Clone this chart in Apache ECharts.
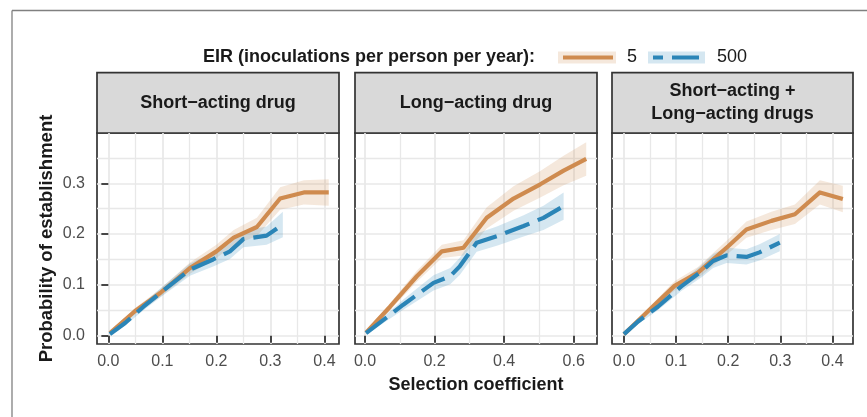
<!DOCTYPE html>
<html>
<head>
<meta charset="utf-8">
<script src="https://cdn.jsdelivr.net/npm/echarts@6/dist/echarts.min.js"></script>
<style>
  html, body { margin: 0; padding: 0; background: #fff; }
  #chart { width: 867px; height: 417px; }
</style>
</head>
<body>
<div id="chart"></div>
<script>
// Panel headings and legend entries
const panelTitles = ['Short\u2212acting drug', 'Long\u2212acting drug', 'Short\u2212acting +\nLong\u2212acting drugs'];
const legendTitle = 'EIR (inoculations per person per year):';
const eirLevels = ['5', '500'];

// Short-acting drug: selection coefficient, probability of establishment, CI half-width
const shortX5   = [0.003, 0.049, 0.096, 0.151, 0.200, 0.232, 0.275, 0.318, 0.362, 0.408];
const shortY5   = [0.005, 0.048, 0.084, 0.133, 0.166, 0.193, 0.214, 0.270, 0.282, 0.282];
const shortCi5  = [0.003, 0.006, 0.008, 0.011, 0.013, 0.015, 0.018, 0.022, 0.024, 0.026];
const shortX500  = [0.003, 0.031, 0.065, 0.096, 0.151, 0.194, 0.225, 0.250, 0.293, 0.323];
const shortY500  = [0.003, 0.025, 0.057, 0.084, 0.130, 0.150, 0.166, 0.190, 0.197, 0.219];
const shortCi500 = [0.003, 0.005, 0.007, 0.009, 0.012, 0.014, 0.015, 0.016, 0.018, 0.025];

// Long-acting drug
const longX5   = [0.003, 0.072, 0.149, 0.221, 0.283, 0.350, 0.427, 0.504, 0.571, 0.636];
const longY5   = [0.006, 0.057, 0.117, 0.166, 0.173, 0.232, 0.270, 0.298, 0.325, 0.348];
const longCi5  = [0.003, 0.007, 0.011, 0.013, 0.015, 0.021, 0.024, 0.026, 0.029, 0.033];
const longX500  = [0.003, 0.053, 0.110, 0.197, 0.245, 0.273, 0.321, 0.379, 0.456, 0.513, 0.571];
const longY500  = [0.005, 0.031, 0.061, 0.104, 0.117, 0.137, 0.183, 0.196, 0.216, 0.232, 0.255];
const longCi500 = [0.003, 0.006, 0.010, 0.015, 0.016, 0.017, 0.018, 0.019, 0.021, 0.024, 0.027];

// Short-acting + long-acting drugs
const comboX5   = [0.000, 0.049, 0.097, 0.142, 0.200, 0.235, 0.283, 0.328, 0.376, 0.420];
const comboY5   = [0.003, 0.051, 0.098, 0.124, 0.176, 0.209, 0.226, 0.239, 0.282, 0.269];
const comboCi5  = [0.003, 0.006, 0.009, 0.011, 0.014, 0.016, 0.018, 0.019, 0.024, 0.026];
const comboX500  = [0.000, 0.027, 0.065, 0.110, 0.149, 0.171, 0.197, 0.235, 0.260, 0.299];
const comboY500  = [0.003, 0.028, 0.057, 0.097, 0.127, 0.147, 0.158, 0.155, 0.164, 0.183];
const comboCi500 = [0.003, 0.005, 0.007, 0.009, 0.012, 0.014, 0.015, 0.015, 0.016, 0.017];

// Axis breaks
const yTicks = [0, 0.1, 0.2, 0.3];
const yMinor = [0.05, 0.15, 0.25, 0.35];
const xTicksShort = [0, 0.1, 0.2, 0.3, 0.4];
const xMinorShort = [0.05, 0.15, 0.25, 0.35];
const xTicksLong = [0, 0.2, 0.4, 0.6];
const xMinorLong = [0.1, 0.3, 0.5];
const yRange = [-0.0164, 0.399];
const xRanges = [[-0.021, 0.427], [-0.0288, 0.667], [-0.023, 0.4395]];

const COL5 = '#cf8b4f', COL500 = '#2b85b7';
const BAND5 = 'rgba(207,139,79,0.2)', BAND500 = 'rgba(43,133,183,0.2)';
const FONT = '"Liberation Sans", Arial, Helvetica, sans-serif';
const INK = '#1a1a1a', TICKTXT = '#4d4d4d', FRAME = '#333333', GRID = '#e8e8e8';

const panels = [
  { title: panelTitles[0], xTicks: xTicksShort, xMinor: xMinorShort, range: xRanges[0],
    s5: [shortX5, shortY5, shortCi5], s500: [shortX500, shortY500, shortCi500] },
  { title: panelTitles[1], xTicks: xTicksLong, xMinor: xMinorLong, range: xRanges[1],
    s5: [longX5, longY5, longCi5], s500: [longX500, longY500, longCi500] },
  { title: panelTitles[2], xTicks: xTicksShort, xMinor: xMinorShort, range: xRanges[2],
    s5: [comboX5, comboY5, comboCi5], s500: [comboX500, comboY500, comboCi500] }
];

// Plot-area placement of the three facets
const gridBoxes = [
  { left: 97, width: 242 },
  { left: 355, width: 242 },
  { left: 612, width: 241 }
];
const PLOT_TOP = 133, PLOT_H = 211, STRIP_TOP = 72.7;

const grids = gridBoxes.map(b => ({
  left: b.left, top: PLOT_TOP, width: b.width, height: PLOT_H,
  show: true, borderColor: FRAME, borderWidth: 1.7, backgroundColor: '#fff'
}));

const xAxes = [], yAxes = [];
panels.forEach((p, i) => {
  xAxes.push({
    type: 'value', gridIndex: i, min: p.range[0], max: p.range[1],
    axisLine: { show: false },
    axisTick: { show: true, length: 7, customValues: p.xTicks, lineStyle: { color: FRAME, width: 1.8 } },
    axisLabel: { show: true, customValues: p.xTicks, margin: 10, color: TICKTXT, fontSize: 16, fontFamily: FONT,
      formatter: v => v.toFixed(1) },
    splitLine: { show: true, lineStyle: { color: GRID, width: 1.7 } },
    name: i === 1 ? 'Selection coefficient' : '',
    nameLocation: 'middle', nameGap: 32,
    nameTextStyle: { fontSize: 18, fontWeight: 'bold', color: INK, fontFamily: FONT }
  });
  yAxes.push({
    type: 'value', gridIndex: i, min: yRange[0], max: yRange[1],
    axisLine: { show: false },
    axisTick: { show: i === 0, length: 7, customValues: yTicks, lineStyle: { color: FRAME, width: 1.8 } },
    axisLabel: { show: i === 0, customValues: yTicks, margin: 12, color: TICKTXT, fontSize: 16, fontFamily: FONT,
      formatter: v => v.toFixed(1) },
    splitLine: { show: true, lineStyle: { color: GRID, width: 1.7 } },
    name: i === 0 ? 'Probability of establishment' : '',
    nameLocation: 'middle', nameGap: 41,
    nameTextStyle: { fontSize: 18.5, fontWeight: 'bold', color: INK, fontFamily: FONT }
  });
});
// Minor grid lines live on companion axes sharing each facet
panels.forEach((p, i) => {
  xAxes.push({
    type: 'value', gridIndex: i, min: p.range[0], max: p.range[1], position: 'bottom',
    axisLine: { show: false }, axisLabel: { show: false, customValues: p.xMinor },
    axisTick: { show: false, customValues: p.xMinor },
    splitLine: { show: true, lineStyle: { color: GRID, width: 1.3 } }
  });
  yAxes.push({
    type: 'value', gridIndex: i, min: yRange[0], max: yRange[1], position: 'left',
    axisLine: { show: false }, axisLabel: { show: false, customValues: yMinor },
    axisTick: { show: false, customValues: yMinor },
    splitLine: { show: true, lineStyle: { color: GRID, width: 1.3 } }
  });
});

function bandSeries(i, xs, ys, ci, fill, z) {
  return {
    type: 'custom', xAxisIndex: i, yAxisIndex: i, z: z, silent: true, clip: true,
    data: [[xs[0], ys[0]]],
    renderItem: (params, api) => {
      const upper = xs.map((x, k) => api.coord([x, ys[k] + ci[k]]));
      const lower = xs.map((x, k) => api.coord([x, ys[k] - ci[k]])).reverse();
      return { type: 'polygon', shape: { points: upper.concat(lower) }, style: { fill: fill } };
    }
  };
}
function lineSeries(i, name, xs, ys, color, dashed, z) {
  return {
    type: 'line', name: name, xAxisIndex: i, yAxisIndex: i, z: z, silent: true,
    showSymbol: false, symbol: 'none', animation: false,
    data: xs.map((x, k) => [x, ys[k]]),
    lineStyle: dashed
      ? { color: color, width: 4.2, type: [26, 9], cap: 'butt', join: 'round' }
      : { color: color, width: 4.2, cap: 'butt', join: 'round' }
  };
}

const series = [];
panels.forEach((p, i) => {
  series.push(bandSeries(i, p.s5[0], p.s5[1], p.s5[2], BAND5, 1));
  series.push(bandSeries(i, p.s500[0], p.s500[1], p.s500[2], BAND500, 2));
  series.push(lineSeries(i, eirLevels[0], p.s5[0], p.s5[1], COL5, false, 3));
  series.push(lineSeries(i, eirLevels[1], p.s500[0], p.s500[1], COL500, true, 4));
});

// Facet strips, legend and outer frame
const graphics = [
  { type: 'line', shape: { x1: 12, y1: 10.5, x2: 867, y2: 10.5 }, style: { stroke: '#808080', lineWidth: 1.3 } },
  { type: 'line', shape: { x1: 12, y1: 10.5, x2: 12, y2: 417 }, style: { stroke: '#808080', lineWidth: 1.3 } }
];
gridBoxes.forEach((b, i) => {
  graphics.push({
    type: 'rect', shape: { x: b.left, y: STRIP_TOP, width: b.width, height: PLOT_TOP - STRIP_TOP },
    style: { fill: '#d9d9d9', stroke: FRAME, lineWidth: 1.7 }
  });
  graphics.push({
    type: 'text', x: b.left + b.width / 2, y: (STRIP_TOP + PLOT_TOP) / 2,
    style: { text: panels[i].title, fill: INK, font: 'bold 18px ' + FONT, align: 'center',
      verticalAlign: 'middle', lineHeight: 23 }
  });
});
const LEG_Y = 57.5;
graphics.push(
  { type: 'text', x: 203, y: LEG_Y, style: { text: legendTitle, fill: INK, font: 'bold 18px ' + FONT, verticalAlign: 'middle' } },
  { type: 'rect', shape: { x: 558, y: LEG_Y - 6, width: 58, height: 12 }, style: { fill: BAND5 } },
  { type: 'line', shape: { x1: 563, y1: LEG_Y, x2: 613, y2: LEG_Y }, style: { stroke: COL5, lineWidth: 4 } },
  { type: 'text', x: 627, y: LEG_Y, style: { text: eirLevels[0], fill: INK, font: '18px ' + FONT, verticalAlign: 'middle' } },
  { type: 'rect', shape: { x: 648, y: LEG_Y - 6, width: 57, height: 12 }, style: { fill: BAND500 } },
  { type: 'line', shape: { x1: 653, y1: LEG_Y, x2: 699, y2: LEG_Y },
    style: { stroke: COL500, lineWidth: 4, lineDash: [27, 9], lineDashOffset: 17 } },
  { type: 'text', x: 717, y: LEG_Y, style: { text: eirLevels[1], fill: INK, font: '18px ' + FONT, verticalAlign: 'middle' } }
);

const chart = echarts.init(document.getElementById('chart'), null, { renderer: 'canvas' });
chart.setOption({
  animation: false,
  backgroundColor: '#fff',
  grid: grids,
  xAxis: xAxes,
  yAxis: yAxes,
  series: series,
  graphic: graphics
});
</script>
</body>
</html>
